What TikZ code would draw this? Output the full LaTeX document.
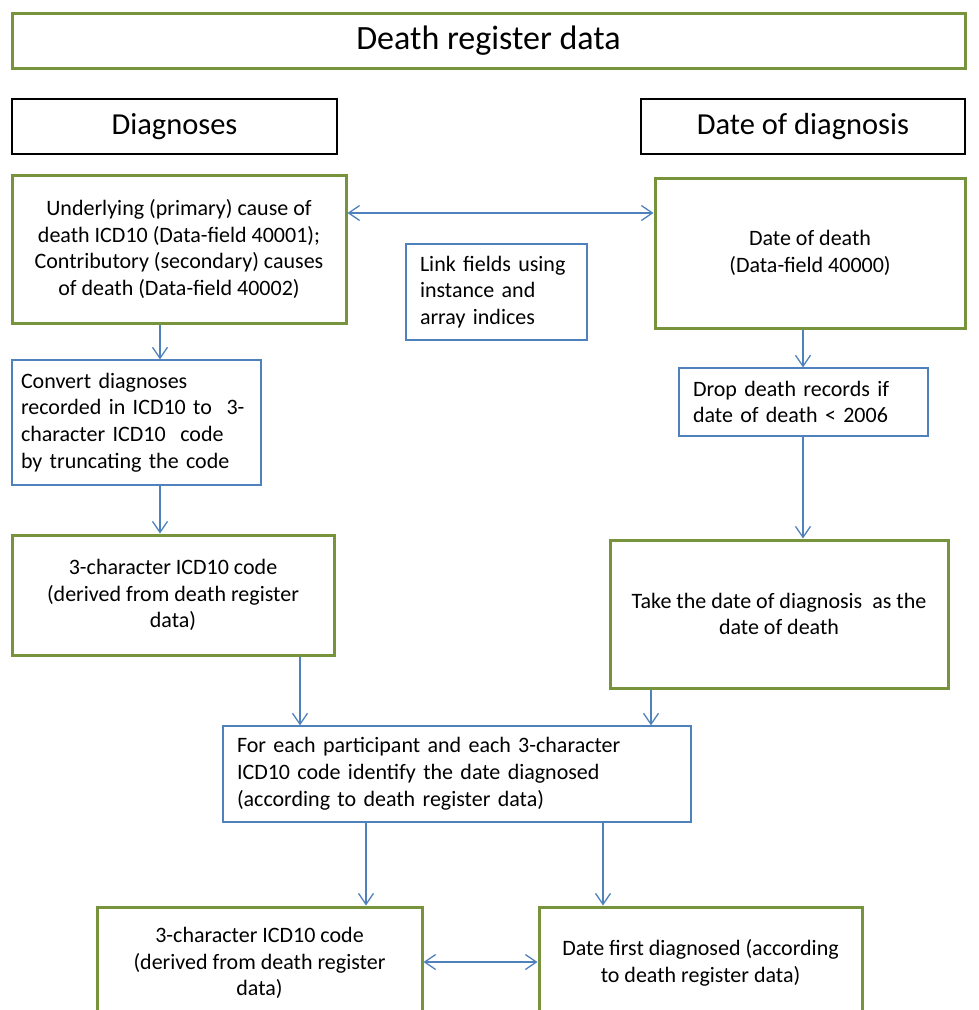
\documentclass[tikz,border=0pt]{standalone}
\usepackage{fontspec}
\setmainfont{Carlito}
\usepackage{xcolor}
\usetikzlibrary{arrows.meta}
\definecolor{boxgreen}{HTML}{77933C}
\definecolor{boxblue}{HTML}{4F81BD}

\begin{document}
\begin{tikzpicture}[x=1pt, y=-1pt,
  gbox/.style={draw=boxgreen, line width=3pt, font=\fontsize{22}{26.8}\selectfont,
               align=center, inner sep=0pt},
  hbox/.style={draw=black, line width=2.6pt, font=\fontsize{30.5}{36}\selectfont,
               inner sep=0pt},
  bbox/.style={draw=boxblue, line width=1.2pt, font=\fontsize{22}{26.8}\selectfont,
               align=left, inner xsep=14pt, inner ysep=0pt},
  arr/.style={-{Straight Barb[length=11pt, width=15pt]}, boxblue, line width=1.3pt},
  arrb/.style={{Straight Barb[length=11pt, width=15pt]}-{Straight Barb[length=11pt, width=15pt]},
               boxblue, line width=1.3pt},
]
\useasboundingbox (0,0) rectangle (978,1010);

\node[gbox, minimum width=953pt, minimum height=55pt, font=\fontsize{34}{40}\selectfont]
  (title) at (488.5,40.5) {Death register data};

\node[hbox, minimum width=325pt, minimum height=55pt] (diag) at (174.5,126.5) {Diagnoses};
\node[hbox, minimum width=324pt, minimum height=55pt] (date) at (803,126.5) {Date of diagnosis};

\node[gbox, minimum width=334pt, minimum height=148pt] (cause) at (179,249)
  {Underlying (primary) cause of\\death ICD10 (Data-field 40001);\\Contributory (secondary) causes\\of death (Data-field 40002)};
\node[gbox, minimum width=310pt, minimum height=150pt] (death) at (810,253)
  {Date of death\\(Data-field 40000)};
\node[bbox, text width=153pt, minimum height=96pt] (link) at (496.5,292)
  {Link fields using\\instance and\\array indices};

\node[bbox, text width=231pt, inner xsep=9pt, minimum height=125pt] (conv) at (136.5,422.5)
  {Convert diagnoses\\\mbox{recorded in ICD10 to~ 3-}\\\mbox{character ICD10~ code}\\by truncating the code};
\node[bbox, text width=221pt, minimum height=68pt] (drop) at (803.5,402)
  {Drop death records if\\date of death < 2006};

\node[gbox, minimum width=322pt, minimum height=120pt] (code) at (173,595)
  {3-character ICD10 code\\(derived from death register\\data)};
\node[gbox, minimum width=338pt, minimum height=148pt] (take) at (779,614)
  {Take the date of diagnosis~ as the\\date of death};

\node[bbox, text width=440pt, minimum height=96pt] (each) at (457,774)
  {For each participant and each 3-character\\ICD10 code identify the date diagnosed\\(according to death register data)};

\node[gbox, minimum width=325pt, minimum height=112pt] (codeb) at (259.5,963)
  {3-character ICD10 code\\(derived from death register\\data)};
\node[gbox, minimum width=323pt, minimum height=112pt] (first) at (700.5,963)
  {Date first diagnosed (according\\to death register data)};

\foreach \a/\b/\x in {cause/conv/160, conv/code/160, code/each/300, death/drop/803,
                      drop/take/803, take/each/651, each/codeb/366, each/first/603}{
  \draw[arr] (\a.south -| \x,0) -- (\b.north -| \x,0);
}
\draw[arrb] (cause.east |- 0,213) -- (death.west |- 0,213);
\draw[arrb] (codeb.east |- 0,962) -- (first.west |- 0,962);
\end{tikzpicture}
\end{document}
